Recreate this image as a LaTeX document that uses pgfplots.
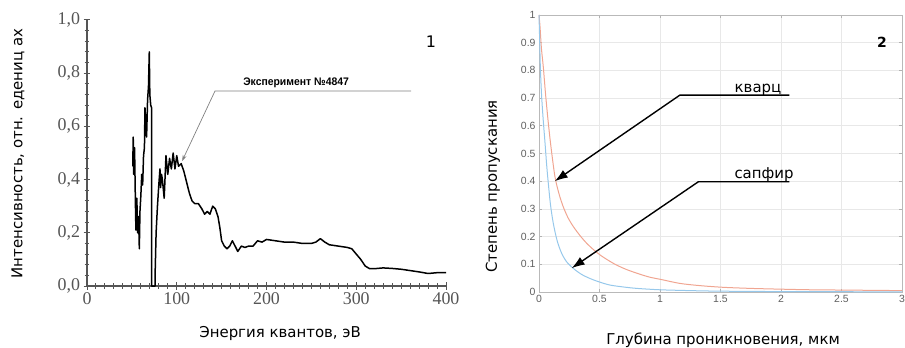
\documentclass[border=0pt]{standalone}
\usepackage{fontspec}
\setmainfont{Liberation Serif}
\setsansfont{Liberation Sans}
\newfontfamily\labfont{DejaVu Sans}
\usepackage{pgfplots}
\pgfplotsset{compat=1.18}
\usetikzlibrary{arrows.meta}
\definecolor{quartz}{RGB}{240,165,145}
\definecolor{sapph}{RGB}{150,200,235}
\definecolor{axgray}{RGB}{85,85,85}
\begin{document}
\begin{tikzpicture}
\path[use as bounding box] (0bp,0bp) rectangle (905bp,348bp);
% ---------- left panel ----------
\begin{axis}[
  at={(87bp,62bp)}, anchor=south west,
  scale only axis, width=359bp, height=266bp,
  xmin=0, xmax=400, ymin=0, ymax=1,
  axis x line=bottom, axis y line=left, axis line style={-, axgray, line width=1.6bp},
  xtick={0,100,200,300,400}, ytick={0,0.2,0.4,0.6,0.8,1.0},
  xticklabels={0,100,200,300,400},
  yticklabels={{0,0},{0,2},{0,4},{0,6},{0,8},{1,0}},
  minor xtick={10,20,...,390}, minor ytick={0.04,0.08,...,0.97},
  xtick align=center, ytick align=center,
  major tick length=7bp, minor tick length=5bp,
  xtick style={axgray, line width=1bp}, ytick style={axgray, line width=1bp},
  ticklabel style={font=\rmfamily\fontsize{18}{20}\selectfont, text=axgray},
  clip=false,
]
\addplot[black, line width=1.5bp, line join=round] coordinates {
(51,0.45)(51.5,0.56)(52,0.42)(53,0.52)(54,0.30)(54.5,0.21)(55.5,0.33)(56.5,0.20)
(57.5,0.26)(58.3,0.14)(59,0.28)(60,0.34)(61,0.42)(62,0.38)(63,0.49)(64,0.52)
(64.6,0.67)(65.5,0.60)(66.4,0.56)(67.5,0.70)(68.5,0.75)(69.4,0.88)(70,0.72)
(71,0.68)(72,0.67)(72.1,0.0)(75.8,0.0)(76,0.06)(77,0.20)(78.5,0.30)(80,0.38)
(81.3,0.44)(82,0.37)(83,0.42)(84,0.40)(86,0.33)(88,0.49)(90,0.42)(92,0.48)
(94,0.44)(96,0.50)(98,0.44)(100,0.49)(102,0.45)(105,0.46)(108,0.43)(111,0.39)
(114,0.35)(117,0.32)(120,0.31)(124,0.31)(128,0.29)(131,0.27)(134,0.28)(137,0.27)
(140,0.30)(143,0.29)(146,0.26)(148,0.22)(150,0.17)(153,0.15)(156,0.14)(159,0.15)
(162,0.17)(165,0.15)(168,0.13)(172,0.15)(176,0.145)(180,0.15)(185,0.15)(190,0.17)
(195,0.165)(200,0.175)(210,0.17)(220,0.165)(230,0.165)(240,0.16)(250,0.16)
(255,0.165)(260,0.178)(265,0.165)(270,0.155)(280,0.15)(290,0.145)(295,0.14)
(300,0.12)(305,0.10)(310,0.075)(315,0.065)(320,0.065)(330,0.068)(340,0.066)
(350,0.063)(360,0.058)(370,0.053)(380,0.047)(390,0.05)(400,0.05)
};
\draw[gray, line width=0.7bp, -{Stealth[length=6bp,width=4bp]}]
  (axis cs:361,0.733) -- (axis cs:142.6,0.733) -- (axis cs:106,0.47);
\node[anchor=base, font=\sffamily\fontsize{11}{12}\selectfont, inner sep=0pt, xscale=0.95]
  at (axis cs:233,0.752) {\textbf{Эксперимент №4847}};
\node[font=\labfont\fontsize{16}{18}\selectfont] at (axis description cs:0.958,0.917) {1};
\node[rotate=90, font=\labfont\fontsize{15}{18}\selectfont] at (axis description cs:-0.192,0.498)
  {Интенсивность, отн. едениц ах};
\node[font=\labfont\fontsize{15}{18}\selectfont] at (axis description cs:0.538,-0.177)
  {Энергия квантов, эВ};
\end{axis}
% ---------- right panel ----------
\begin{axis}[
  at={(539bp,56bp)}, anchor=south west,
  scale only axis, width=363bp, height=277bp,
  xmin=0, xmax=3, ymin=0, ymax=1,
  xtick={0,0.5,1,1.5,2,2.5,3},
  ytick={0,0.1,0.2,0.3,0.4,0.5,0.6,0.7,0.8,0.9,1},
  xticklabels={0,0.5,1,1.5,2,2.5,3},
  yticklabels={0,0.1,0.2,0.3,0.4,0.5,0.6,0.7,0.8,0.9,1},
  grid=major, grid style={gray!18, line width=0.6bp},
  axis line style={gray!55, line width=0.8bp},
  tick align=inside, major tick length=3bp, tick style={gray!60, line width=0.6bp},
  ticklabel style={font=\sffamily\fontsize{10.5}{12}\selectfont, text=gray!75!black},
  clip=false,
]
\addplot[quartz, line width=1bp, smooth] coordinates {
(0,1.0)(0.008,0.96)(0.02,0.88)(0.036,0.81)(0.055,0.71)(0.077,0.61)(0.10,0.52)
(0.132,0.416)(0.165,0.355)(0.2,0.308)(0.24,0.268)(0.284,0.236)(0.34,0.203)(0.394,0.176)
(0.45,0.153)(0.504,0.134)(0.57,0.115)(0.642,0.097)(0.73,0.080)(0.835,0.064)(0.92,0.053)
(1.0,0.046)(1.165,0.031)(1.33,0.023)(1.52,0.017)(1.75,0.013)(2.02,0.010)(2.25,0.008)
(2.51,0.007)(2.75,0.006)(3.0,0.005)
};
\addplot[sapph, line width=1bp, smooth] coordinates {
(0,1.0)(0.006,0.9)(0.012,0.8)(0.022,0.705)(0.035,0.62)(0.05,0.537)(0.063,0.46)
(0.077,0.392)(0.095,0.315)(0.118,0.248)(0.15,0.185)(0.187,0.14)(0.23,0.108)(0.284,0.085)
(0.35,0.064)(0.42,0.049)(0.5,0.036)(0.587,0.025)(0.7,0.018)(0.81,0.013)(1.0,0.008)
(1.25,0.005)(1.5,0.003)(2.0,0.0015)(2.5,0.001)(3.0,0.0005)
};
\draw[black, line width=1.4bp, -{Latex[length=13bp,width=9bp]}]
  (axis cs:2.07,0.711) -- (axis cs:1.165,0.711) -- (axis cs:0.13,0.40);
\draw[black, line width=1.4bp, -{Latex[length=13bp,width=9bp]}]
  (axis cs:2.07,0.398) -- (axis cs:1.317,0.398) -- (axis cs:0.27,0.086);
\node[anchor=base, font=\labfont\fontsize{15}{18}\selectfont, inner sep=0pt] at (axis cs:1.81,0.722) {кварц};
\node[anchor=base, font=\labfont\fontsize{15}{18}\selectfont, inner sep=0pt] at (axis cs:1.86,0.41) {сапфир};
\node[font=\labfont\fontsize{14}{16}\selectfont] at (axis description cs:0.945,0.903) {\textbf{2}};
\node[rotate=90, font=\labfont\fontsize{15}{18}\selectfont] at (axis description cs:-0.127,0.381)
  {Степень пропускания};
\node[font=\labfont\fontsize{15}{18}\selectfont] at (axis description cs:0.507,-0.173)
  {Глубина проникновения, мкм};
\end{axis}
\end{tikzpicture}
\end{document}
